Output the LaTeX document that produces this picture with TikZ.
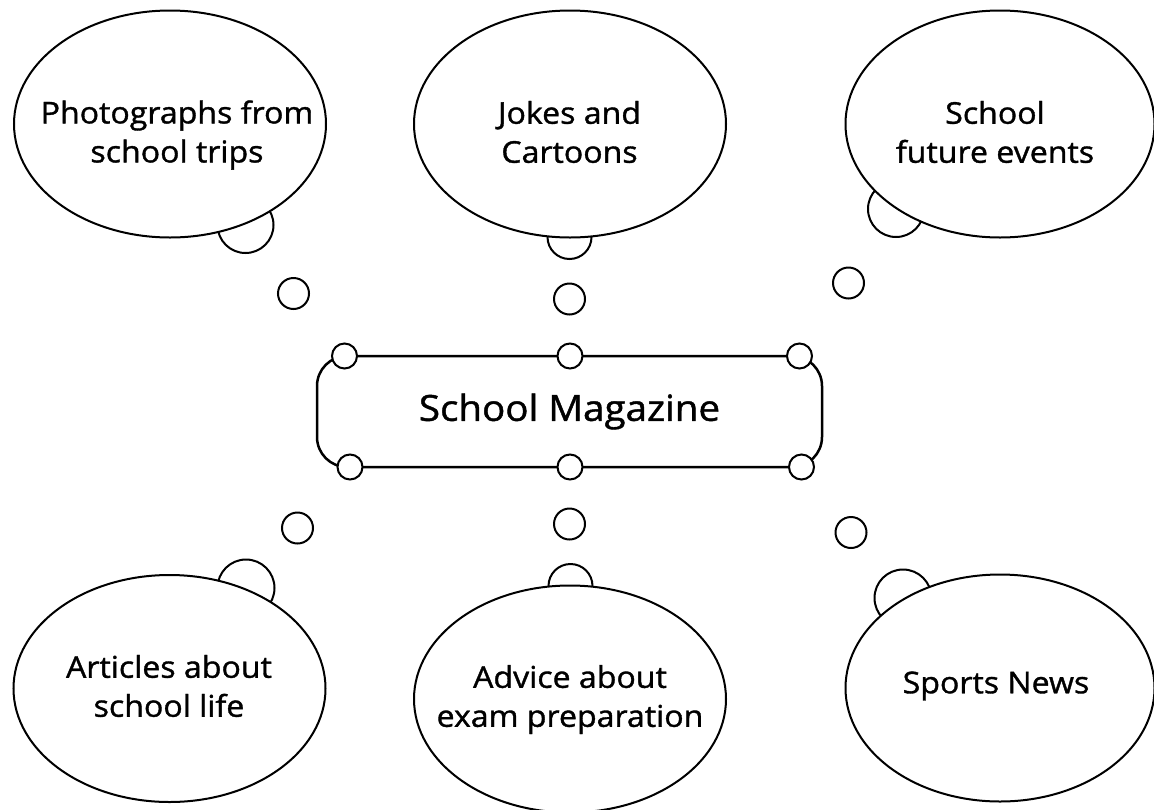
\documentclass[tikz,border=0pt]{standalone}
\usepackage{fontspec}
\setmainfont{Open Sans}[FakeBold=1.2, FakeStretch=1.07]
\usepackage{tikz}
\usetikzlibrary{shapes.geometric, positioning}
\tikzstyle{thought} = [ellipse, draw=black, line width=2pt, fill=white, minimum width=312pt, minimum height=227pt, inner sep=0pt]
\tikzstyle{puff} = [circle, draw=black, line width=2pt, fill=white, inner sep=0pt]
\tikzstyle{idea} = [align=center, inner sep=0pt, font=\fontsize{30}{39}\selectfont]
\tikzstyle{hub} = [rectangle, rounded corners=30pt, draw=black, line width=2.5pt, minimum width=505pt, minimum height=111pt, font=\fontsize{36}{46}\selectfont]
\tikzstyle{knob} = [circle, draw=black, line width=2pt, fill=white, minimum size=25pt, inner sep=0pt]

\begin{document}
\begin{tikzpicture}[x=1pt, y=-1pt]
    \useasboundingbox (0,0) rectangle (1154,809);

    % puffs that sit behind the thought bubbles
    \node (photospuff) [puff, minimum size=56pt] at (245.5,225) {};
    \node (jokespuff) [puff, minimum size=44pt] at (569.5,237) {};
    \node (eventspuff) [puff, minimum size=56pt] at (896,209) {};
    \node (articlespuff) [puff, minimum size=57pt] at (246,588) {};
    \node (advicepuff) [puff, minimum size=44pt] at (570.5,586) {};
    \node (sportspuff) [puff, minimum size=57pt] at (903,598) {};

    % thought bubbles
    \node (photos) [thought] at (170,124) {};
    \node (jokes) [thought] at (570,124) {};
    \node (events) [thought, minimum width=309pt] at (1000,124) {};
    \node (articles) [thought] at (169.5,688.5) {};
    \node (advice) [thought] at (570,699) {};
    \node (sports) [thought, minimum width=309pt] at (1000,688) {};

    \node (photostext) [idea] at (177,135) {Photographs from\\school trips};
    \node (jokestext) [idea] at (569.5,132) {Jokes and\\Cartoons};
    \node (eventstext) [idea] at (995,132) {School\\future events};
    \node (articlestext) [idea] at (169,686) {Articles about\\school life};
    \node (advicetext) [idea] at (570,699.5) {Advice about\\exam preparation};
    \node (sportstext) [idea] at (996,686) {Sports News};

    % small puffs leading to the magazine
    \node (photosdot) [puff, minimum size=31pt] at (293.5,293.5) {};
    \node (jokesdot) [puff, minimum size=31pt] at (569.5,299) {};
    \node (eventsdot) [puff, minimum size=31pt] at (848.5,283) {};
    \node (articlesdot) [puff, minimum size=31pt] at (297.5,528) {};
    \node (advicedot) [puff, minimum size=31pt] at (569.5,524) {};
    \node (sportsdot) [puff, minimum size=31pt] at (851,532.5) {};

    % the magazine
    \node (magazine) [hub] at (569.5,411.5) {School Magazine};
    \node (knobtl) [knob] at (344.5,356) {};
    \node (knobtm) [knob] at (570,356) {};
    \node (knobtr) [knob] at (799.5,356) {};
    \node (knobbl) [knob] at (350,467) {};
    \node (knobbm) [knob] at (570,467) {};
    \node (knobbr) [knob] at (801.5,467) {};
\end{tikzpicture}
\end{document}
